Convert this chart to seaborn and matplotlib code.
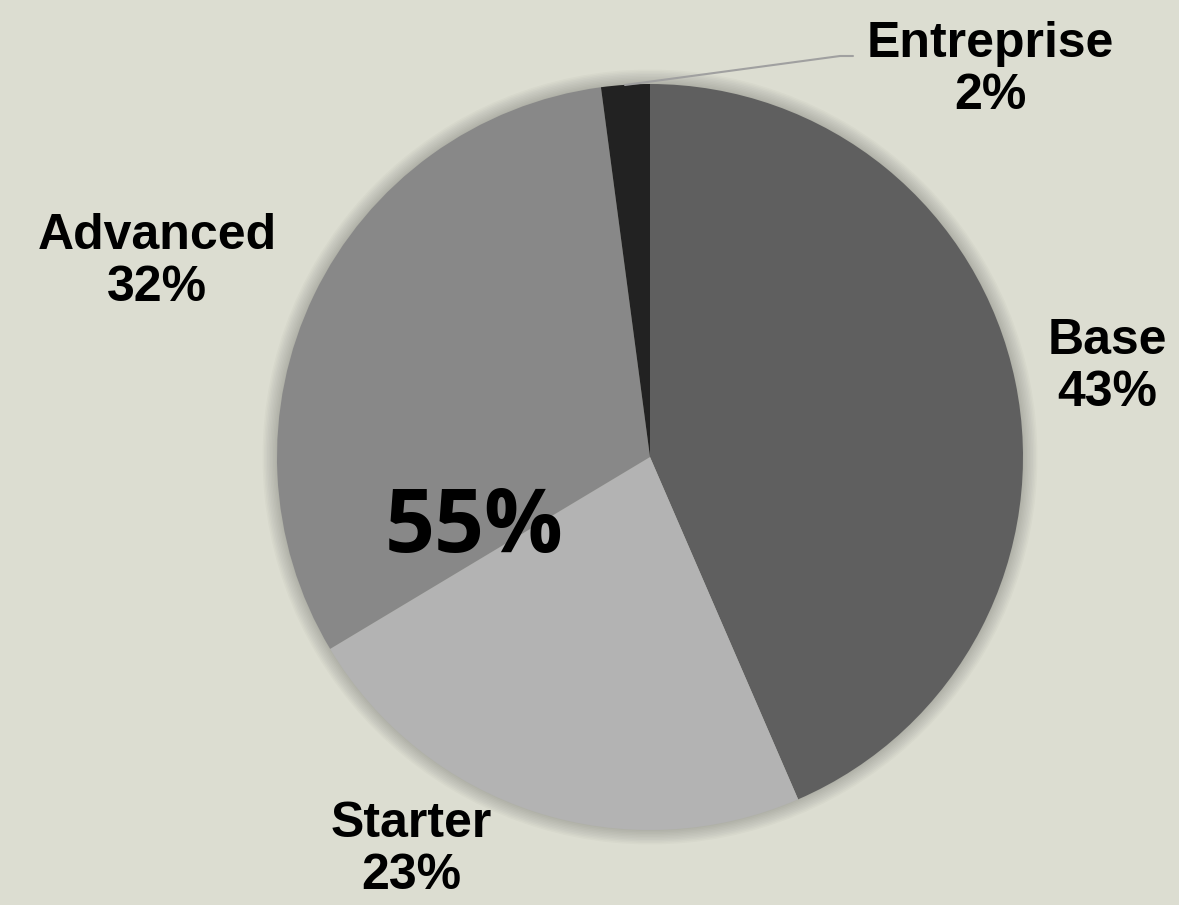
import matplotlib
matplotlib.use("Agg")
import matplotlib.pyplot as plt
import seaborn as sns

categories = ["Base", "Starter", "Advanced", "Entreprise"]
values = [43.5, 22.9, 31.5, 2.1]
pct_labels = ["43%", "23%", "32%", "2%"]
colors = ["#5f5f5f", "#b3b3b3", "#888888", "#222222"]
center_text = "55%"

sns.set_theme(style="white")
bg = "#dcddd1"
W, H = 1179, 905
fig = plt.figure(figsize=(W / 100, H / 100), dpi=100, facecolor=bg)
ax = fig.add_axes([0, 0, 1, 1])
ax.set_facecolor(bg)
ax.set_xlim(0, W)
ax.set_ylim(0, H)
ax.set_aspect("equal")
ax.axis("off")

cx, cy, r = 650, H - 457, 373

# soft shadow
for i in range(10):
    c = plt.Circle((cx, cy), r + 1 + i * 1.5, color="black", alpha=0.018, lw=0, zorder=0)
    ax.add_patch(c)

ax.pie(values, colors=colors, startangle=90, counterclock=False,
       center=(cx, cy), radius=r, frame=True,
       wedgeprops=dict(linewidth=0, zorder=1))
ax.set_xlim(0, W)
ax.set_ylim(0, H)
ax.axis("off")

lab_font = dict(family="Liberation Sans", weight="bold", fontsize=36, color="black",
                ha="center", va="center", linespacing=1.15)
label_pos = {
    "Base": (1107, H - 367),
    "Starter": (411, H - 850),
    "Advanced": (157, H - 262),
    "Entreprise": (990, H - 70),
}
for cat, p in zip(categories, pct_labels):
    x, y = label_pos[cat]
    ax.text(x, y, f"{cat}\n{p}", zorder=5, **lab_font)

# leader line for Entreprise
ax.plot([625, 840, 853], [H - 85, H - 56, H - 56], color="#a0a0a0", lw=1.5, zorder=4)

ax.text(474, H - 529, center_text, family="Open Sans", weight="bold", fontsize=63,
        ha="center", va="center", color="black", zorder=5)

fig.savefig("out.png", dpi=100, facecolor=bg)
